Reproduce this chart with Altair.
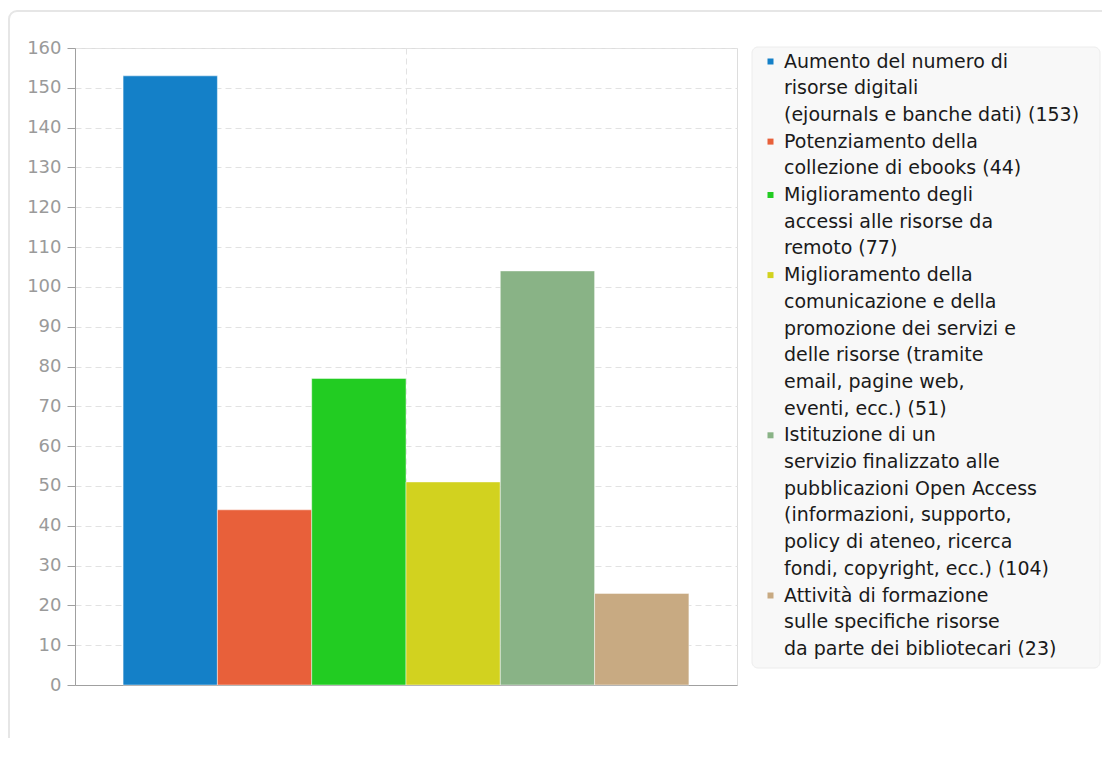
import altair as alt
import pandas as pd

# ---- data ----
label_lines = [
    ["Aumento del numero di", "risorse digitali", "(ejournals e banche dati)"],
    ["Potenziamento della", "collezione di ebooks"],
    ["Miglioramento degli", "accessi alle risorse da", "remoto"],
    ["Miglioramento della", "comunicazione e della", "promozione dei servizi e",
     "delle risorse (tramite", "email, pagine web,", "eventi, ecc.)"],
    ["Istituzione di un", "servizio finalizzato alle", "pubblicazioni Open Access",
     "(informazioni, supporto,", "policy di ateneo, ricerca", "fondi, copyright, ecc.)"],
    ["Attività di formazione", "sulle specifiche risorse", "da parte dei bibliotecari"],
]
values = [153, 44, 77, 51, 104, 23]
colors = ["#1480C8", "#E8603A", "#22CC22", "#D2D21F", "#89B386", "#C8AA82"]
y_ticks = list(range(0, 161, 10))

# ---- build tables ----
legend_domain, legend_range = [], []
first_lines = []
for lines, v, c in zip(label_lines, values, colors):
    lines = lines[:-1] + [f"{lines[-1]} ({v})"]
    for j, ln in enumerate(lines):
        legend_domain.append(ln)
        legend_range.append(c if j == 0 else "rgba(0,0,0,0)")
    first_lines.append(lines[0])

bars_df = pd.DataFrame({"idx": list(range(len(values))), "cat": first_lines, "value": values})

x_scale = alt.Scale(domain=[-0.51, len(values) + 0.51], nice=False, zero=False, padding=0)
y_scale = alt.Scale(domain=[0, 160], nice=False, padding=0)

bars = alt.Chart(bars_df).transform_calculate(
    x1="datum.idx + 1"
).mark_bar(stroke="#ffffff", strokeOpacity=0.45, strokeWidth=1).encode(
    x=alt.X("idx:Q", scale=x_scale,
            axis=alt.Axis(values=[len(values) / 2], labels=False, ticks=False, title=None,
                          grid=True, gridColor="#e2e2e2", gridDash=[6, 4],
                          domainColor="#a0a0a0", domainWidth=1)),
    x2="x1:Q",
    y=alt.Y("value:Q", scale=y_scale,
            axis=alt.Axis(values=y_ticks, title=None, grid=True, gridColor="#e2e2e2",
                          gridDash=[6, 4], domainColor="#a0a0a0", tickColor="#a0a0a0",
                          tickSize=8, labelColor="#9a9a9a", labelFontSize=18,
                          labelPadding=6, labelFont="DejaVu Sans")),
    y2=alt.datum(0),
    color=alt.Color("cat:N", scale=alt.Scale(domain=legend_domain, range=legend_range),
                    legend=alt.Legend(orient="none", legendX=686, legendY=4, title=None,
                                      symbolType="square", symbolSize=36, symbolStrokeWidth=0,
                                      labelFontSize=19, labelFont="DejaVu Sans",
                                      labelColor="#1a1a1a", labelLimit=0, labelOffset=4,
                                      rowPadding=6.7, padding=0)),
)

one = pd.DataFrame({"k": [0]})
frame = alt.Chart(one).mark_rect(fill="transparent", stroke="#e6e6e6", strokeWidth=2,
                                 cornerRadius=8).encode(
    x=alt.value(-66), x2=alt.value(1100), y=alt.value(-37), y2=alt.value(800))
legend_box = alt.Chart(one).mark_rect(fill="#f8f8f8", stroke="#ececec", strokeWidth=1,
                                      cornerRadius=6).encode(
    x=alt.value(677), x2=alt.value(1025), y=alt.value(-1), y2=alt.value(620))

chart = alt.layer(frame, legend_box, bars).properties(
    width=662, height=637,
    autosize=alt.AutoSizeParams(type="none"),
    padding={"left": 67, "top": 40, "right": 365, "bottom": 53},
    background="#ffffff",
).configure_view(fill="#f7f7f7", stroke="#dddddd").configure(font="DejaVu Sans")

chart.save("out.html", embed_options={"renderer": "svg", "actions": False})
